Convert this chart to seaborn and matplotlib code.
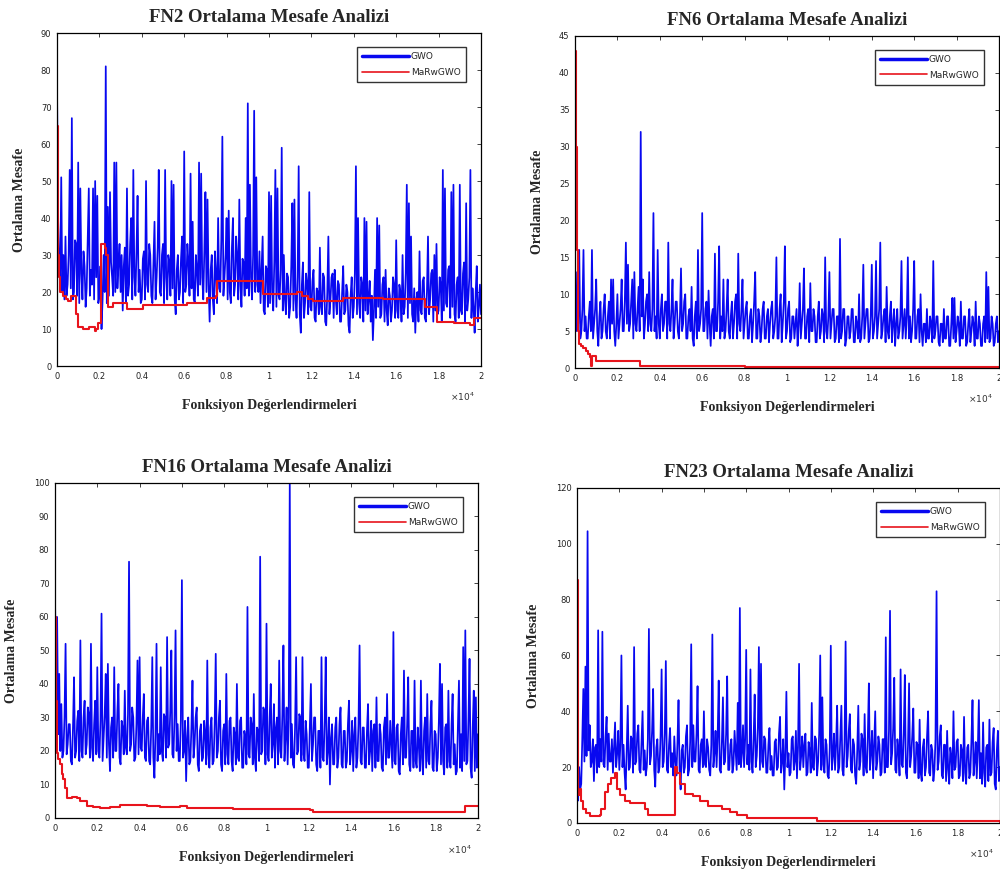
import numpy as np
import pandas as pd
import matplotlib
matplotlib.use("Agg")
import matplotlib.pyplot as plt
import seaborn as sns

sns.set_style("white")
plt.rcParams["font.family"] = ["DejaVu Sans"]

# Evaluation axis shared by all GWO traces (0 .. 20000 in steps of 50)
evals = list(range(0, 20001, 50))
xtick_values = list(range(0, 20001, 2000))
xtick_labels = ["0", "0.2", "0.4", "0.6", "0.8", "1", "1.2", "1.4", "1.6", "1.8", "2"]

# ---------------- FN2 ----------------
fn2_gwo = [
    76, 40, 28, 22, 51, 20, 30, 18, 35, 19, 22, 30, 53, 21, 67, 18, 20, 34, 33, 19,
    55, 17, 48, 25, 18, 31, 27, 16, 21, 35, 48, 19, 26, 22, 48, 18, 50, 24, 46, 17,
    19, 27, 10, 18, 30, 20, 81, 17, 43, 19, 47, 28, 24, 19, 55, 20, 55, 21, 28, 33,
    20, 30, 15, 27, 32, 17, 48, 19, 22, 33, 40, 18, 53, 24, 19, 31, 46, 20, 26, 17,
    18, 29, 31, 18, 50, 22, 20, 33, 30, 19, 17, 28, 39, 18, 24, 32, 53, 20, 19, 30,
    33, 17, 53, 24, 18, 30, 28, 19, 50, 21, 49, 18, 14, 26, 30, 18, 20, 29, 35, 17,
    58, 20, 22, 33, 28, 19, 52, 21, 39, 18, 17, 30, 26, 19, 55, 22, 52, 24, 18, 31,
    47, 20, 45, 22, 12, 26, 30, 18, 14, 31, 25, 17, 40, 21, 20, 34, 62, 19, 24, 30,
    40, 18, 42, 20, 17, 32, 40, 19, 22, 35, 30, 18, 45, 22, 16, 29, 28, 19, 40, 21,
    71, 19, 49, 24, 18, 30, 69, 20, 51, 22, 20, 31, 17, 26, 35, 15, 14, 27, 26, 16,
    47, 17, 46, 20, 15, 28, 53, 16, 48, 19, 18, 26, 59, 15, 30, 18, 14, 25, 24, 13,
    16, 27, 44, 15, 45, 18, 13, 24, 54, 14, 9, 22, 28, 13, 17, 25, 22, 14, 47, 16,
    15, 23, 26, 13, 12, 21, 20, 14, 32, 16, 14, 25, 24, 12, 11, 20, 35, 14, 18, 24,
    25, 13, 26, 18, 14, 23, 22, 12, 12, 20, 27, 14, 15, 22, 20, 11, 9, 19, 24, 13,
    16, 25, 54, 14, 40, 17, 13, 24, 22, 12, 40, 15, 39, 14, 18, 23, 12, 19, 7, 15,
    26, 13, 40, 16, 38, 13, 14, 22, 24, 12, 26, 15, 11, 21, 19, 12, 15, 24, 22, 13,
    34, 15, 13, 22, 20, 12, 30, 14, 16, 25, 49, 13, 44, 17, 35, 14, 12, 21, 9, 18,
    20, 12, 31, 15, 14, 23, 24, 13, 12, 20, 35, 14, 18, 25, 26, 12, 30, 15, 33, 14,
    15, 24, 22, 12, 53, 15, 48, 17, 16, 26, 27, 13, 47, 16, 49, 14, 12, 22, 24, 13,
    49, 15, 14, 25, 28, 12, 44, 15, 18, 24, 53, 13, 21, 16, 9, 20, 27, 12, 16, 22,
    14,
]
fn2_mar_x = [0, 30, 60, 100, 150, 280, 440, 520, 680, 880, 990, 1230, 1500, 1780,
             1850, 1940, 2090, 2250, 2330, 2410, 2650, 3280, 4060, 6110, 7060, 7500,
             7530, 9730, 11310, 11540, 11860, 12090, 13350, 13510, 15400, 17370,
             17920, 18710, 19500, 19650, 20000]
fn2_mar_y = [65, 45, 30, 24, 20, 19, 18, 17.5, 19, 14, 10.5, 10, 10.5, 9.5,
             10, 11.5, 33, 32, 30, 16, 17, 15.5, 16.5, 17, 18.5, 19,
             23, 19.5, 20, 19, 18, 17.5, 17.5, 18.5, 18, 16,
             12, 11.5, 11, 13, 13]

# ---------------- FN6 ----------------
fn6_gwo = [
    8, 5, 13, 6, 16, 4, 5, 8, 16, 5, 7, 4, 4, 7, 9, 5, 16, 4, 6, 8,
    12, 5, 3, 7, 9, 4, 5, 8, 10, 5, 4, 7, 9, 4, 12, 6, 12, 5, 3, 6,
    10, 4, 6, 8, 12, 5, 5, 9, 17, 6, 14, 5, 6, 9, 12, 4, 13, 6, 5, 8,
    11, 5, 32, 7, 12, 4, 6, 9, 10, 5, 13, 6, 5, 8, 21, 5, 7, 4, 16, 6,
    4, 8, 10, 5, 6, 9, 9, 4, 17, 6, 5, 8, 12, 4, 6, 9, 9, 5, 4, 7,
    13.5, 5, 6, 9, 10, 4, 4, 7, 8, 5, 11, 4, 3, 7, 9, 4, 16, 5, 6, 8,
    21, 5, 5, 8, 9, 4, 10.5, 6, 3, 7, 8, 4, 15.5, 5, 5, 9, 16.5, 4, 7, 5,
    12, 4, 5, 8, 12, 5, 4, 7, 9, 4, 6, 9, 10, 4, 15.5, 6, 5, 8, 12, 4,
    6, 8, 9, 4, 4, 7, 8, 3.5, 6, 9, 13, 4, 4, 8, 7, 3.5, 5, 8, 9, 4,
    4, 7, 8, 3.5, 6, 8, 9, 4, 5, 7, 15, 4, 4, 8, 10, 3.5, 6, 9, 16.5, 4,
    5, 8, 9, 3.5, 4, 7, 7, 4, 6, 8, 3, 6, 11.5, 4, 6, 8, 13.5, 4, 4, 7,
    8, 3.5, 11.5, 5, 5, 8, 7, 3.5, 3.5, 7, 9, 4, 5, 8, 7, 3.5, 15, 5, 4, 7,
    13, 4, 6, 8, 8, 3.5, 4, 7, 7, 3.5, 17.5, 4, 5, 8, 8, 3, 4, 7, 7, 4,
    5, 8, 8, 3.5, 3.5, 7, 6, 4, 10, 3.5, 4, 7, 14, 4, 6, 8, 8, 3.5, 4, 7,
    14, 4, 5, 7, 14.5, 4, 6, 8, 17, 4, 5, 7, 8, 3.5, 11, 5, 4, 7, 9, 3.5,
    6, 8, 3, 6, 8, 4, 5, 7, 14.5, 4, 6, 8, 4, 7, 15, 4, 7, 3.5, 5, 8,
    14.5, 4, 4, 7, 8, 3.5, 10, 5, 3, 6, 6, 3.5, 8, 4, 4, 7, 6, 3.5, 14.5, 4,
    5, 7, 7, 3.5, 3, 6, 6, 3.5, 8, 4, 4, 7, 7, 3, 3, 6, 9.5, 4, 9.5, 3.5,
    5, 7, 6, 3, 9, 4, 4, 7, 7, 3, 3.5, 6, 8, 3.5, 5, 7, 6, 3, 9, 4,
    4, 7, 6, 3, 3, 6, 7, 3.5, 13, 4, 11, 3.5, 4, 7, 6, 3, 3.5, 6, 7, 3.5,
    5,
]
fn6_mar_x = [0, 30, 60, 90, 120, 160, 200, 300, 400, 500, 600, 700, 750, 800,
             900, 1000, 1100, 3000, 3050, 5000, 8000, 10000, 12000, 20000]
fn6_mar_y = [43, 40, 30, 16, 8, 5, 3.2, 3, 2.7, 2.3, 1.9, 1.5, 0.3, 1.6,
             1.6, 0.9, 0.9, 0.9, 0.3, 0.25, 0.2, 0.15, 0.1, 0.1]

# ---------------- FN16 ----------------
fn16_gwo = [
    66, 40, 60, 25, 43, 20, 34, 18, 20, 30, 52, 19, 22, 28, 28, 17, 16, 27, 42, 18,
    20, 29, 32, 17, 53, 20, 18, 30, 35, 19, 22, 33, 31, 18, 52, 21, 17, 28, 35, 19,
    45, 20, 18, 29, 61, 17, 24, 31, 43, 18, 46, 22, 14, 27, 30, 18, 45, 20, 20, 32,
    40, 18, 16, 29, 27, 19, 38, 21, 19, 31, 76.5, 20, 22, 33, 30, 17, 18, 28, 47, 19,
    48, 21, 20, 30, 37, 18, 17, 29, 30, 17, 16, 27, 48, 18, 12, 25, 52, 17, 25, 19,
    45, 20, 17, 31, 30, 18, 54, 21, 22, 32, 50, 19, 18, 30, 56, 20, 28, 17, 17, 29,
    71, 18, 20, 29, 11, 24, 30, 16, 17, 27, 41, 18, 22, 30, 33, 16, 14, 26, 28, 17,
    18, 29, 25, 16, 47, 19, 15, 27, 30, 16, 17, 28, 49, 18, 20, 30, 35, 16, 14, 26,
    28, 16, 43, 19, 16, 29, 30, 17, 14, 27, 25, 16, 40, 18, 17, 29, 30, 15, 15, 26,
    24, 16, 63, 19, 18, 30, 28, 16, 37, 18, 14, 27, 26, 17, 78, 19, 20, 33, 32, 16,
    58, 19, 17, 30, 40, 18, 22, 34, 15, 27, 30, 16, 47, 20, 18, 31, 51.5, 17, 24, 33,
    16, 30, 100, 18, 28, 16, 15, 27, 48, 19, 20, 31, 30, 17, 48, 19, 17, 29, 25, 15,
    15, 27, 40, 17, 22, 30, 30, 16, 14, 26, 26, 15, 48, 18, 17, 29, 48, 16, 20, 30,
    10, 24, 28, 16, 16, 27, 30, 15, 18, 28, 33, 16, 15, 26, 26, 15, 17, 28, 35, 16,
    20, 29, 14, 25, 30, 15, 18, 28, 51.5, 17, 16, 27, 27, 15, 15, 26, 34, 16, 20, 29,
    14, 26, 28, 15, 36, 17, 17, 28, 25, 15, 14, 27, 30, 16, 37, 18, 18, 29, 22, 15,
    55.5, 17, 16, 27, 28, 14, 13, 25, 30, 16, 44, 18, 18, 28, 42, 16, 14, 26, 26, 15,
    41, 17, 15, 27, 22, 14, 41, 18, 13, 26, 30, 15, 37, 17, 16, 28, 35, 15, 14, 26,
    25, 14, 18, 29, 46, 16, 40, 17, 13, 27, 28, 15, 38, 17, 15, 28, 37, 16, 22, 13,
    14, 28, 41, 15, 25, 14, 51, 17, 56, 16, 17, 30, 47.5, 15, 12, 27, 38, 14, 36, 15,
    25,
]
fn16_mar_x = [0, 40, 80, 160, 240, 320, 400, 480, 550, 790, 1020, 1180, 1500, 1810,
              2130, 2600, 3070, 3700, 4330, 4960, 5900, 6220, 8420, 11580, 12050,
              12200, 19370, 20000]
fn16_mar_y = [60, 35, 19.5, 17.5, 16, 13, 11.5, 9, 6, 6.3, 6, 5, 3.7, 3.2,
              3, 3.2, 4, 4, 3.5, 3.2, 3.5, 3, 2.8, 2.8, 2.3,
              1.8, 3.7, 3.7]

# ---------------- FN23 ----------------
fn23_gwo = [
    10, 8, 20, 12, 14, 30, 48, 22, 56, 24, 104.5, 26, 35, 20, 22, 30, 15, 27, 28, 18,
    69, 20, 30, 22, 68.5, 21, 20, 31, 38, 19, 32, 22, 22, 30, 18, 27, 36, 20, 25, 33,
    19, 28, 60, 20, 28, 18, 12, 26, 42, 19, 20, 31, 30, 18, 63, 21, 22, 32, 35, 19,
    18, 29, 40, 19, 26, 17, 20, 30, 69.5, 21, 24, 33, 48, 19, 13, 27, 30, 18, 20, 31,
    55, 20, 22, 32, 58, 19, 18, 28, 34, 20, 25, 17, 31, 22, 17, 29, 44, 19, 12, 26,
    28, 18, 20, 31, 35, 17, 19, 29, 64, 20, 35, 22, 22, 32, 49, 19, 18, 28, 30, 20,
    40, 21, 20, 30, 27, 19, 17, 28, 67.5, 20, 25, 33, 20, 31, 51, 19, 18, 29, 45, 21,
    22, 32, 52.5, 19, 19, 28, 30, 18, 21, 33, 26, 19, 43, 21, 77, 20, 25, 35, 20, 30,
    62, 21, 28, 19, 55, 22, 18, 30, 46, 20, 24, 34, 63, 19, 57, 22, 20, 31, 30, 18,
    18, 28, 34, 19, 24, 17, 17, 29, 30, 19, 20, 32, 38, 18, 22, 30, 12, 25, 47, 20,
    25, 17, 18, 30, 31, 19, 22, 33, 16, 27, 57, 19, 24, 31, 20, 28, 32, 17, 18, 29,
    26, 18, 43, 20, 19, 31, 30, 17, 22, 32, 60, 19, 45, 21, 18, 30, 28, 17, 16, 27,
    63.5, 19, 24, 32, 19, 28, 42, 18, 20, 31, 42, 19, 17, 29, 65, 20, 24, 33, 39, 19,
    18, 30, 28, 17, 14, 26, 42, 19, 22, 32, 30, 17, 39, 20, 18, 31, 50, 19, 25, 33,
    16, 28, 40, 19, 22, 31, 28, 17, 18, 30, 30, 18, 66.5, 20, 20, 33, 76, 21, 25, 34,
    52, 19, 18, 30, 26, 17, 55, 21, 20, 32, 53, 18, 16, 28, 50, 20, 24, 31, 41, 18,
    18, 29, 28, 16, 37, 18, 15, 27, 30, 17, 20, 31, 40, 18, 17, 28, 26, 15, 19, 30,
    83, 19, 22, 31, 35, 17, 16, 28, 28, 15, 33, 19, 14, 27, 24, 16, 40, 19, 20, 29,
    30, 16, 17, 28, 26, 15, 38, 18, 14, 27, 28, 16, 18, 30, 44, 17, 22, 29, 16, 26,
    44, 16, 25, 14, 36, 18, 13, 27, 28, 15, 37, 17, 18, 29, 34, 14, 12, 26, 33, 15,
    20,
]
fn23_mar_x = [0, 30, 60, 120, 200, 280, 440, 600, 1080, 1150, 1310, 1470, 1630, 1790,
              1870, 2020, 2260, 2500, 3050, 3210, 3370, 4550, 4630, 4710, 4870, 5110,
              5500, 5820, 6210, 6850, 7240, 7560, 8030, 11190, 11350, 20000]
fn23_mar_y = [87, 60, 10, 12, 8, 5, 3.5, 2.5, 3, 5, 11, 14, 16, 18,
              12, 10, 8, 7.2, 7.2, 5, 3, 3, 20, 18, 14, 10.5,
              9.5, 8, 6, 5, 4, 3, 1.8, 1.8, 0.6, 0.4]

panels = [
    dict(title="FN2 Ortalama Mesafe Analizi", gwo=fn2_gwo, mx=fn2_mar_x, my=fn2_mar_y,
         ymax=90, ystep=10, rect=[0.057, 0.5812, 0.424, 0.381]),
    dict(title="FN6 Ortalama Mesafe Analizi", gwo=fn6_gwo, mx=fn6_mar_x, my=fn6_mar_y,
         ymax=45, ystep=5, rect=[0.575, 0.5789, 0.424, 0.380]),
    dict(title="FN16 Ortalama Mesafe Analizi", gwo=fn16_gwo, mx=fn16_mar_x, my=fn16_mar_y,
         ymax=100, ystep=10, rect=[0.055, 0.0641, 0.423, 0.3833]),
    dict(title="FN23 Ortalama Mesafe Analizi", gwo=fn23_gwo, mx=fn23_mar_x, my=fn23_mar_y,
         ymax=120, ystep=20, rect=[0.577, 0.0584, 0.423, 0.3833]),
]

fig = plt.figure(figsize=(10, 8.74), dpi=100)
serif = ["Liberation Serif", "DejaVu Serif"]

for p in panels:
    ax = fig.add_axes(p["rect"])
    gwo_df = pd.DataFrame({"x": evals, "y": p["gwo"]})
    mar_df = pd.DataFrame({"x": p["mx"], "y": p["my"]})
    sns.lineplot(data=gwo_df, x="x", y="y", ax=ax, color="#0808f0", lw=1.25,
                 estimator=None, label="GWO")
    sns.lineplot(data=mar_df, x="x", y="y", ax=ax, color="#e8141c", lw=1.5,
                 estimator=None, drawstyle="steps-post", label="MaRwGWO")

    ax.set_xlim(0, 20000)
    ax.set_ylim(0, p["ymax"])
    ax.set_xticks(xtick_values)
    ax.set_xticklabels(xtick_labels)
    ax.set_yticks(np.arange(0, p["ymax"] + 1, p["ystep"]))
    ax.tick_params(direction="in", length=3, width=0.6, labelsize=6,
                   top=True, right=True, pad=4, colors="#222222")
    for s in ax.spines.values():
        s.set_color("black")
        s.set_linewidth(0.9)

    ax.set_title(p["title"], fontsize=13.5, fontweight="bold", family=serif, pad=8)
    ax.set_xlabel("Fonksiyon Değerlendirmeleri", fontsize=10, fontweight="bold",
                  family=serif, labelpad=13)
    ax.set_ylabel("Ortalama Mesafe", fontsize=10, fontweight="bold",
                  family=serif, labelpad=11)
    ax.text(0.985, -0.075, r"$\times10^{4}$", transform=ax.transAxes,
            fontsize=6.5, ha="right", va="top", color="#333333")

    leg = ax.legend(loc="upper right", bbox_to_anchor=(0.97, 0.965), fontsize=6.5,
                    frameon=True, fancybox=False, edgecolor="black",
                    handlelength=5.2, borderpad=0.55, labelspacing=0.7,
                    handletextpad=0.25, borderaxespad=0.3)
    leg.get_frame().set_linewidth(1.0)
    leg.get_lines()[0].set_linewidth(2.5)
    leg.get_lines()[1].set_linewidth(1.2)

fig.savefig("out.png", dpi=100, facecolor="white")
